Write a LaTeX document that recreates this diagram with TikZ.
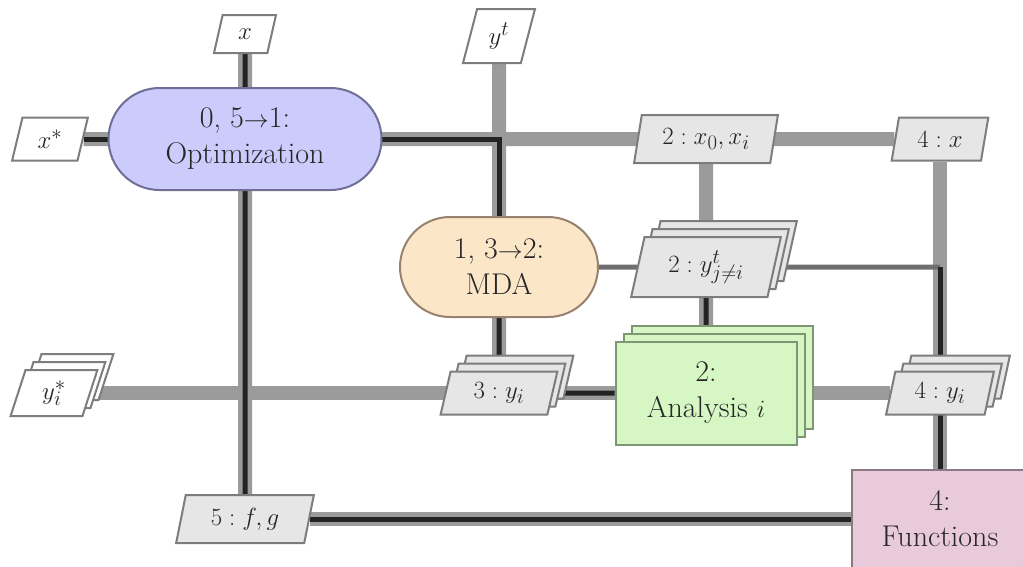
\documentclass[tikz,border=0pt]{standalone}
\usetikzlibrary{shapes.geometric,shapes.misc,shadows}
\pgfdeclarelayer{bg}
\pgfsetlayers{bg,main}
\definecolor{optfill}{RGB}{204,204,252}
\definecolor{optdraw}{RGB}{110,110,150}
\definecolor{mdafill}{RGB}{252,230,200}
\definecolor{mdadraw}{RGB}{150,130,110}
\definecolor{anfill}{RGB}{214,246,196}
\definecolor{andraw}{RGB}{125,150,115}
\definecolor{funcfill}{RGB}{232,202,218}
\definecolor{funcdraw}{RGB}{140,120,130}
\definecolor{datafill}{RGB}{230,230,230}
\definecolor{datadraw}{RGB}{125,125,125}
\definecolor{datagray}{RGB}{155,155,155}
\definecolor{procblack}{RGB}{35,35,35}
\definecolor{thingray}{RGB}{110,110,110}
\begin{document}
\begin{tikzpicture}[x=1pt,y=-1pt,
  every node/.style={font=\fontsize{30}{36}\selectfont, text=black!85},
  datanode/.style={trapezium, trapezium left angle=76, trapezium right angle=104,
    trapezium stretches=true, draw=datadraw, line width=2pt, fill=datafill, inner sep=0pt},
  inputnode/.style={datanode, fill=white},
  stacked/.style={copy shadow={shadow xshift=16pt,shadow yshift=16pt},
    copy shadow={shadow xshift=8pt,shadow yshift=8pt}},
  procnode/.style={rounded rectangle, line width=2pt, align=center, inner sep=0pt},
  boxnode/.style={rectangle, line width=2pt, align=center, inner sep=0pt},
  dataline/.style={line width=14pt, draw=datagray},
  procline/.style={line width=5pt, draw=procblack},
  thinline/.style={line width=5pt, draw=thingray}]
\useasboundingbox (0,0) rectangle (1023,566);

% process nodes
\node[procnode, fill=optfill, draw=optdraw, minimum width=273pt, minimum height=102pt] (opt) at (245,139) {0, 5$\rightarrow$1:\\Optimization};
\node[procnode, fill=mdafill, draw=mdadraw, minimum width=198pt, minimum height=100pt] (mda) at (499,267) {1, 3$\rightarrow$2:\\MDA};
\node[boxnode, stacked, fill=anfill, draw=andraw, minimum width=181pt, minimum height=103pt] (an) at (706,393) {2:\\Analysis $i$};
\node[boxnode, fill=funcfill, draw=funcdraw, minimum width=176pt, minimum height=98pt] (func) at (940,519) {4:\\Functions};

% data nodes
\node[inputnode, minimum width=62pt, minimum height=38pt] (xin) at (245,34) {$x$};
\node[inputnode, minimum width=72pt, minimum height=54pt] (yt) at (499,36) {$y^t$};
\node[inputnode, minimum width=76pt, minimum height=43pt] (xstar) at (50,139) {$x^*$};
\node[datanode, minimum width=144pt, minimum height=48pt] (x02) at (706,139) {$2: x_0, x_i$};
\node[datanode, minimum width=97pt, minimum height=43pt] (x4) at (940,139) {$4: x$};
\node[datanode, stacked, minimum width=150pt, minimum height=60pt] (yt2) at (706,267) {$2: y^t_{j\neq i}$};
\node[inputnode, stacked, minimum width=87pt, minimum height=46pt] (ystar) at (54,393) {$y_i^*$};
\node[datanode, stacked, minimum width=117pt, minimum height=43pt] (y3) at (499,393) {$3: y_i$};
\node[datanode, stacked, minimum width=108pt, minimum height=43pt] (y4) at (940,393) {$4: y_i$};
\node[datanode, minimum width=138pt, minimum height=48pt] (fg) at (245,519) {$5: f, g$};

\coordinate (corner) at (mda -| func);

\begin{pgfonlayer}{bg}
  % data lines
  \draw[dataline] (xin) -- (fg);
  \draw[dataline] (xstar) -- (x4);
  \draw[dataline] (yt) -- (y3);
  \draw[dataline] (x02) -- (an);
  \draw[dataline] (x4) -- (func);
  \draw[dataline] (ystar) -- (y4);
  \draw[dataline] (fg) -- (func);
  % thin lines
  \draw[thinline] (mda) -- (yt2) -- (corner);
  % process lines
  \draw[procline] (xin) -- (fg);
  \draw[procline] (xstar) -| (mda);
  \draw[procline] (mda) -- (y3);
  \draw[procline] (y3) -- (an);
  \draw[procline] (yt2) -- (an);
  \draw[procline] (corner) -- (func);
  \draw[procline] (fg) -- (func);
\end{pgfonlayer}
\end{tikzpicture}
\end{document}
